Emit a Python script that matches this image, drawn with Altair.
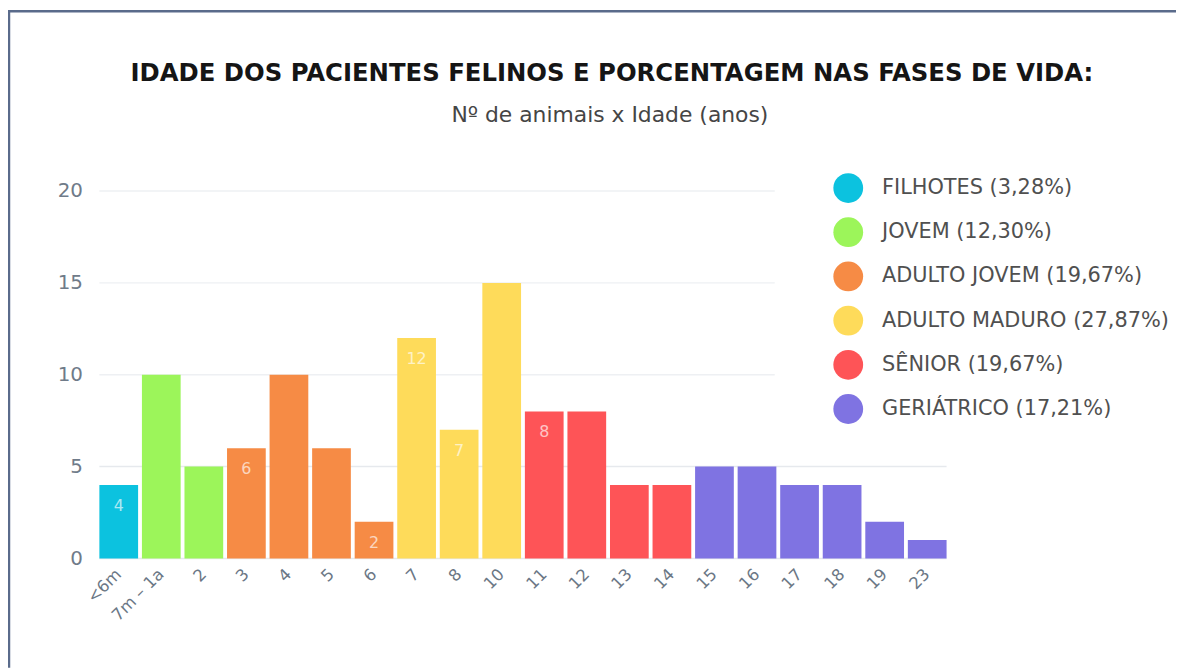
import altair as alt
import pandas as pd

# ---- data -------------------------------------------------------------
ages = ["<6m", "7m – 1a", "2", "3", "4", "5", "6", "7", "8", "10",
        "11", "12", "13", "14", "15", "16", "17", "18", "19", "23"]
counts = [4, 10, 5, 6, 10, 6, 2, 12, 7, 15, 8, 8, 4, 4, 5, 5, 4, 4, 2, 1]
phase_of_age = ["FILHOTES", "JOVEM", "JOVEM",
                "ADULTO JOVEM", "ADULTO JOVEM", "ADULTO JOVEM", "ADULTO JOVEM",
                "ADULTO MADURO", "ADULTO MADURO", "ADULTO MADURO",
                "SÊNIOR", "SÊNIOR", "SÊNIOR", "SÊNIOR",
                "GERIÁTRICO", "GERIÁTRICO", "GERIÁTRICO", "GERIÁTRICO",
                "GERIÁTRICO", "GERIÁTRICO"]
phases = ["FILHOTES", "JOVEM", "ADULTO JOVEM", "ADULTO MADURO", "SÊNIOR", "GERIÁTRICO"]
phase_colors = ["#0cc2df", "#9cf55a", "#f68b45", "#fedb5a", "#fe5457", "#7f73e2"]
labelled_ages = ["<6m", "3", "6", "7", "8", "11"]
grid_short = [10, 15, 20]
grid_long = [0, 5]
y_ticks = [0, 5, 10, 15, 20]
title_text = "IDADE DOS PACIENTES FELINOS E PORCENTAGEM NAS FASES DE VIDA:"
subtitle_text = "Nº de animais x Idade (anos)"

total = sum(counts)
pct = {p: sum(c for c, ph in zip(counts, phase_of_age) if ph == p) / total * 100 for p in phases}
legend_names = [f"{p} ({pct[p]:.2f}%)".replace(".", ",") for p in phases]
phase_label = dict(zip(phases, legend_names))

df = pd.DataFrame({
    "idade": ages,
    "n": counts,
    "fase": [phase_label[p] for p in phase_of_age],
    "rot": [str(c) if a in labelled_ages else "" for a, c in zip(ages, counts)],
})

W, H = 853, 370
FONT = "DejaVu Sans"

yscale = alt.Scale(domain=[0, 20])
yaxis = alt.Axis(title=None, values=y_ticks, grid=False, domain=False,
                 ticks=False, labelFontSize=20, labelFont=FONT,
                 labelColor="#6f7b89", labelPadding=17)
xenc = alt.X("idade:N", sort=ages,
             scale=alt.Scale(paddingInner=0.09, paddingOuter=0),
             axis=alt.Axis(title=None, labelAngle=-45, labelAlign="right",
                           labelBaseline="middle", labelFontSize=16.5, labelFont=FONT,
                           labelColor="#6b7785", labelPadding=13, domain=False,
                           ticks=False, labelOverlap=False))

grid_l = alt.Chart(pd.DataFrame({"n": grid_long})).mark_rule(
    color="#e6e9ed", strokeWidth=1.5).encode(
    y=alt.Y("n:Q", scale=yscale, axis=yaxis), x=alt.value(0), x2=alt.value(W))
grid_s = alt.Chart(pd.DataFrame({"n": grid_short})).mark_rule(
    color="#eef0f3", strokeWidth=1.5).encode(
    y=alt.Y("n:Q", scale=yscale, axis=yaxis), x=alt.value(0), x2=alt.value(680))

bars = alt.Chart(df).mark_bar().encode(
    x=xenc,
    y=alt.Y("n:Q", scale=yscale, axis=yaxis),
    color=alt.Color("fase:N", scale=alt.Scale(domain=legend_names, range=phase_colors),
                    legend=alt.Legend(title=None, orient="none", legendX=739, legendY=-18,
                                      symbolType="circle", symbolSize=900,
                                      symbolStrokeWidth=0, labelFontSize=21,
                                      labelFont=FONT, labelColor="#505050",
                                      rowPadding=14.5, labelOffset=19, padding=0,
                                      labelLimit=400)),
)

texts = alt.Chart(df).mark_text(
    color="white", opacity=0.65, fontSize=16, font=FONT, baseline="middle", dy=21
).encode(x=alt.X("idade:N", sort=ages), y=alt.Y("n:Q", scale=yscale, axis=yaxis),
         text="rot:N")

title_df = pd.DataFrame({"t": [title_text]})
subtitle_df = pd.DataFrame({"t": [subtitle_text]})
title_mark = alt.Chart(title_df).mark_text(
    font=FONT, fontSize=24.5, fontWeight="bold", color="#151515",
    align="center", baseline="alphabetic").encode(
    x=alt.value(516), y=alt.value(-110.5), text="t:N")
subtitle_mark = alt.Chart(subtitle_df).mark_text(
    font=FONT, fontSize=22, color="#454545",
    align="center", baseline="alphabetic").encode(
    x=alt.value(514), y=alt.value(-69.5), text="t:N")

border_top = alt.Chart(pd.DataFrame({"k": [0]})).mark_rule(
    color="#5a6b8b", strokeWidth=2.5).encode(
    x=alt.value(-92), x2=alt.value(1100), y=alt.value(-181), y2=alt.value(-181))
border_left = alt.Chart(pd.DataFrame({"k": [0]})).mark_rule(
    color="#5a6b8b", strokeWidth=2.5).encode(
    x=alt.value(-91), x2=alt.value(-91), y=alt.value(-182), y2=alt.value(480))

chart = alt.layer(grid_l, grid_s, bars, texts, title_mark, subtitle_mark,
                  border_top, border_left).properties(
    width=W, height=H,
    autosize=alt.AutoSizeParams(type="none"),
    padding={"left": 92, "top": 182, "right": 231, "bottom": 108},
).configure_view(stroke=None)

chart.save("out.html", embed_options={"renderer": "svg", "actions": False})
